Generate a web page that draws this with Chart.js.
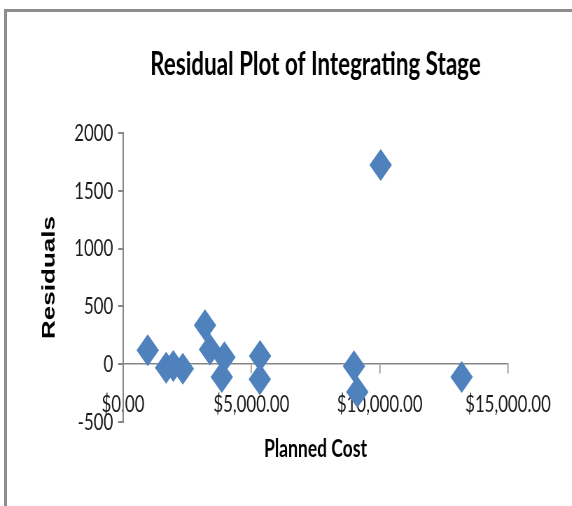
<!DOCTYPE html>
<html>
<head>
<meta charset="utf-8">
<script src="https://cdn.jsdelivr.net/npm/chart.js@4.4.1/dist/chart.umd.min.js"></script>
<style>
  html, body { margin: 0; padding: 0; background: #ffffff; overflow: hidden; }
  #frame { position: absolute; left: 4px; top: 9px; width: 600px; height: 520px;
           border-top: 3px solid #8e8e8e; border-left: 3px solid #8e8e8e; box-sizing: border-box; }
  #wrap { position: absolute; left: 0; top: 0; width: 817px; height: 506px;
          transform: scaleX(0.7); transform-origin: 0 0; }
</style>
</head>
<body>
<div id="frame"></div>
<div id="wrap"><canvas id="c" width="817" height="506"></canvas></div>
<script>
// ---- data ----
const plannedCost = [962, 1680, 1960, 2330, 3195, 3390, 3950, 3850, 5340, 5330, 9000, 9130, 10040, 13195];
const residuals   = [121, -30, -15, -40, 338, 127, 60, -110, 70, -130, -17, -240, 1723, -110];
const xTickValues = [0, 5000, 10000, 15000];
const xTickLabels = ['$0.00', '$5,000.00', '$10,000.00', '$15,000.00'];
const yTickValues = [-500, 0, 500, 1000, 1500, 2000];
const yTickLabels = ['-500', '0', '500', '1000', '1500', '2000'];
const chartTitle = 'Residual Plot of Integrating Stage';
const xTitle = 'Planned Cost';
const yTitle = 'Residuals';

const points = plannedCost.map((x, i) => ({ x: x, y: residuals[i] }));
const axisGray = '#868686';
const labelColor = '#1a1a1a';

new Chart(document.getElementById('c'), {
  type: 'scatter',
  data: {
    datasets: [{
      label: yTitle,
      data: points,
      pointStyle: 'rectRot',
      pointRadius: 16,
      pointHoverRadius: 16,
      backgroundColor: '#4f81bd',
      borderColor: '#4f81bd',
      borderWidth: 0
    }]
  },
  options: {
    responsive: false,
    devicePixelRatio: 1,
    animation: false,
    layout: { padding: { left: 0, right: 91.3, top: 0, bottom: 0 } },
    plugins: {
      legend: { display: false },
      tooltip: { enabled: false },
      title: {
        display: true, text: chartTitle, fullSize: false,
        color: '#000000',
        font: { family: 'Lato', weight: 'bold', size: 32 },
        padding: { top: 45, bottom: 49.6 }
      },
      subtitle: {
        display: true, text: xTitle, position: 'bottom', fullSize: false,
        color: '#000000',
        font: { family: 'Lato', weight: 'bold', size: 25 },
        padding: { top: 12, bottom: 42 }
      }
    },
    scales: {
      x: {
        type: 'linear',
        position: { y: 0 },
        min: 0, max: 15000,
        afterBuildTicks: (s) => { s.ticks = xTickValues.map(v => ({ value: v })); },
        afterFit: (s) => { s.paddingLeft = 0; s.paddingRight = 0; },
        grid: { drawOnChartArea: false, drawTicks: true, tickLength: 9, color: axisGray, lineWidth: 1.5 },
        border: { display: true, color: axisGray, width: 1.5 },
        ticks: {
          autoSkip: false, maxRotation: 0, minRotation: 0, padding: 17,
          color: labelColor,
          font: { family: 'Lato', size: 24 },
          callback: (v) => xTickLabels[xTickValues.indexOf(v)]
        }
      },
      y: {
        type: 'linear',
        position: 'left',
        min: -500, max: 2000,
        afterBuildTicks: (s) => { s.ticks = yTickValues.map(v => ({ value: v })); },
        afterFit: (s) => { s.width = 175.7; s.paddingTop = 0; s.paddingBottom = 0; },
        grid: { drawOnChartArea: false, drawTicks: true, tickLength: 7, color: axisGray, lineWidth: 2 },
        border: { display: true, color: axisGray, width: 2 },
        ticks: {
          padding: 7,
          color: labelColor,
          font: { family: 'Lato', size: 24 },
          callback: (v) => yTickLabels[yTickValues.indexOf(v)]
        },
        title: {
          display: true, text: yTitle, color: '#000000',
          font: { family: 'Liberation Sans', weight: 'bold', size: 26 },
          padding: { top: 55, bottom: 0 }
        }
      }
    }
  }
});
</script>
</body>
</html>
